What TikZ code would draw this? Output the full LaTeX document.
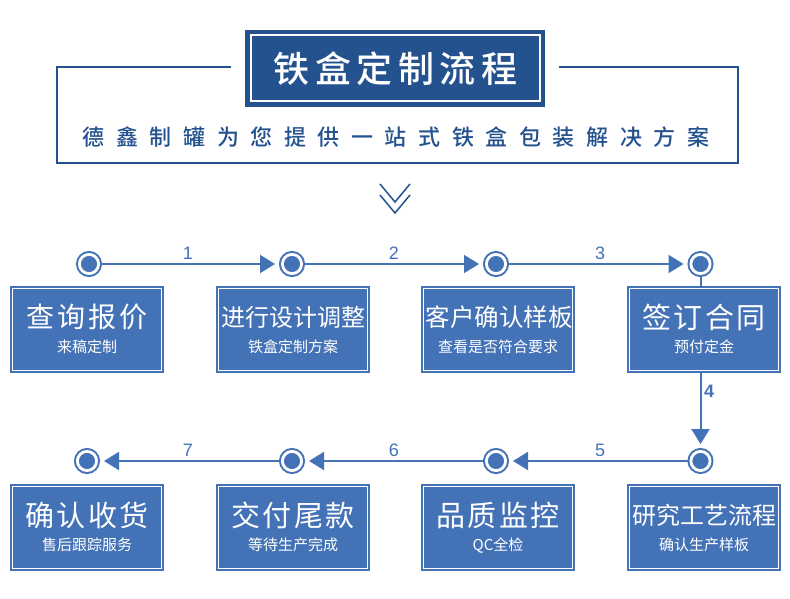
\documentclass[tikz,border=0pt]{standalone}
\usepackage{fontspec}
\usetikzlibrary{arrows.meta}
\newfontfamily\cjk{Noto Sans CJK SC}
\newfontfamily\cjkmed{Noto Sans CJK SC Medium}
\setsansfont{Liberation Sans}
\definecolor{navy}{HTML}{24528F}
\definecolor{boxblue}{HTML}{4472B6}
\newcommand{\fs}[2]{\fontsize{#1}{#2}\selectfont}
\tikzset{
  titlebox/.style={draw=navy,fill=navy,line width=4.5pt,double=white,double distance=2pt,minimum width=289pt,minimum height=66pt,inner sep=0pt,outer sep=5.5pt},
  framepath/.style={draw=navy,line width=2pt},
  stepbox/.style={draw=boxblue,fill=boxblue,line width=2.2pt,double=white,double distance=0.9pt,minimum width=148.7pt,minimum height=81.7pt,inner sep=0pt,outer sep=2.65pt},
  steptext/.style={text=white,inner sep=0pt,font=\cjk},
  dot/.style={circle,draw=boxblue,fill=boxblue,line width=2pt,double=white,double distance=2.8pt,minimum size=19.2pt,inner sep=0pt,outer sep=3.4pt},
  flow/.style={draw=boxblue,line width=2pt},
  flowtip/.style={flow,-{Triangle[length=15pt,width=18pt]},shorten >=4pt},
  numlabel/.style={text=boxblue,inner sep=0pt,font=\sffamily\fontsize{18}{18}\selectfont},
  chev/.style={draw=navy,line width=1.5pt}
}
\newcommand{\stepnode}[7]{%
  % name, cx, cy, main text, main size, letter space, sub text
  \node[stepbox] (#1) at (#2,#3) {};
  \node[steptext] (#1m) at (#2,#3-12.5) {\fs{#5}{#5}\addfontfeature{LetterSpace=#6}#4};
  \node[steptext] (#1s) at (#2,#3+17.5) {\fs{15}{15}#7};
}
\begin{document}
\begin{tikzpicture}[x=1pt,y=-1pt]
\useasboundingbox[fill=white] (0,0) rectangle (790,599);
% header frame
\coordinate (fa) at (231,67);
\coordinate (fb) at (57,67);
\coordinate (fc) at (57,163);
\coordinate (fd) at (738,163);
\coordinate (fe) at (738,67);
\coordinate (ff) at (559,67);
\draw[framepath] (fa) -- (fb) -- (fc) -- (fd) -- (fe) -- (ff);
\node[titlebox] (title) at (395,68.5) {};
\node[text=white,inner sep=0pt,font=\cjkmed] (titlet) at (395.5,68.5) {\fs{36}{36}\addfontfeature{LetterSpace=15.5}铁盒定制流程};
\node[text=navy,inner sep=0pt,font=\cjkmed] (sub) at (396,137) {\fs{22}{22}\addfontfeature{LetterSpace=52.7}德鑫制罐为您提供一站式铁盒包装解决方案};
% chevrons
\coordinate (v1a) at (380,184);\coordinate (v1b) at (395,202);\coordinate (v1c) at (410,184);
\coordinate (v2a) at (380,195);\coordinate (v2b) at (395,213);\coordinate (v2c) at (410,195);
\draw[chev] (v1a) -- (v1b) -- (v1c);
\draw[chev] (v2a) -- (v2b) -- (v2c);
% boxes
\stepnode{b1}{87}{329.5}{查询报价}{28}{11}{来稿定制}
\stepnode{b2}{293}{329.5}{进行设计调整}{24}{0}{铁盒定制方案}
\stepnode{b3}{498}{329.5}{\hspace{2pt}客户确认样板}{24.5}{0}{查看是否符合要求}
\stepnode{b4}{704}{329.5}{签订合同}{29}{9}{预付定金}
\stepnode{b5}{87}{527.5}{确认收货}{29}{7}{售后跟踪服务}
\stepnode{b6}{293}{527.5}{交付尾款}{29}{7}{等待生产完成}
\stepnode{b7}{498}{527.5}{品质监控}{29}{7}{QC全检}
\stepnode{b8}{704}{527.5}{研究工艺流程}{24}{0}{确认生产样板}
% dots
\node[dot] (c1) at (89,264) {};
\node[dot] (c2) at (292,264) {};
\node[dot] (c3) at (496,264) {};
\node[dot] (c4) at (700.5,264) {};
\node[dot] (c5) at (700.5,461) {};
\node[dot] (c6) at (496,461) {};
\node[dot] (c7) at (292,461) {};
\node[dot] (c8) at (87,461) {};
% connectors
\draw[flowtip] (c1) -- (c2);
\draw[flowtip] (c2) -- (c3);
\draw[flowtip] (c3) -- (c4);
\draw[flow] (c4) -- (c4 |- b4.north);
\draw[flowtip] (c4 |- b4.south) -- (c5);
\draw[flowtip] (c5) -- (c6);
\draw[flowtip] (c6) -- (c7);
\draw[flowtip] (c7) -- (c8);
% labels
\node[numlabel] (n1) at (188,253) {1};
\node[numlabel] (n2) at (394,253) {2};
\node[numlabel] (n3) at (600,253) {3};
\node[numlabel,font=\sffamily\bfseries\fontsize{18}{18}\selectfont] (n4) at (709,391) {4};
\node[numlabel] (n5) at (600,450) {5};
\node[numlabel] (n6) at (394,450) {6};
\node[numlabel] (n7) at (188,450) {7};
\end{tikzpicture}
\end{document}
